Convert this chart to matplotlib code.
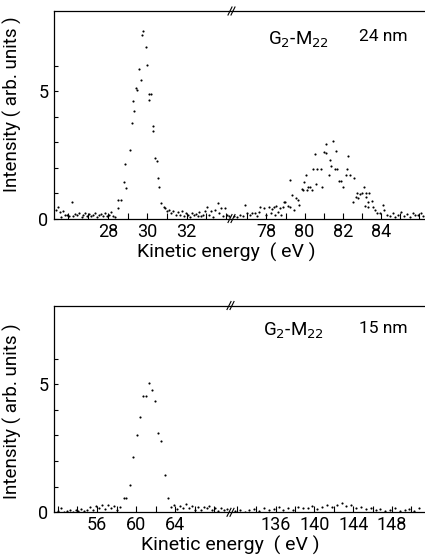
import matplotlib
matplotlib.use("Agg")
import matplotlib.pyplot as plt
import numpy as np

plt.rcParams['font.family'] = ['Roboto', 'DejaVu Sans']

# ---- 24 nm spectrum, low-energy part (G2 line)
top_lo_E = [25.35, 25.47, 25.55, 25.62, 25.75, 25.85, 25.95, 26.05, 26.17, 26.25, 26.35,
            26.45, 26.55, 26.68, 26.75, 26.85, 26.95, 27.05, 27.15, 27.25, 27.35, 27.45,
            27.55, 27.65, 27.75, 27.85, 27.95, 28.05, 28.15, 28.25, 28.35,
            28.51, 28.54, 28.69, 28.81, 28.87, 28.92, 29.11, 29.21, 29.26, 29.35, 29.41,
            29.50, 29.60, 29.68, 29.73, 29.80, 29.92, 29.97, 30.07, 30.11, 30.21, 30.27,
            30.31, 30.41, 30.47, 30.53, 30.61, 30.69, 30.83, 30.91, 31.02,
            31.12, 31.22, 31.32, 31.45, 31.55, 31.65, 31.75, 31.85, 31.95, 32.05, 32.15,
            32.25, 32.35, 32.45, 32.55, 32.65, 32.75, 32.85, 32.95, 33.05, 33.15, 33.25,
            33.35, 33.45, 33.58, 33.65, 33.75, 33.85, 33.95, 34.05, 34.15]
top_lo_I = [0.35, 0.46, 0.25, 0.05, 0.30, 0.15, 0.12, 0.10, 0.64, 0.08, 0.18,
            0.12, 0.20, 0.05, 0.15, 0.22, 0.10, 0.18, 0.08, 0.15, 0.20, 0.05,
            0.12, 0.18, 0.10, 0.20, 0.08, 0.15, 0.25, 0.10, 0.05,
            0.74, 0.40, 0.74, 1.45, 2.15, 1.19, 2.70, 3.76, 4.63, 4.23, 5.11,
            5.03, 5.89, 5.44, 7.20, 7.38, 6.72, 6.04, 4.89, 4.67, 4.89, 3.64,
            3.44, 2.39, 2.25, 1.59, 1.23, 0.62, 0.44, 0.40, 0.30,
            0.32, 0.22, 0.30, 0.15, 0.25, 0.12, 0.28, 0.08, 0.20, 0.15, 0.05,
            0.22, 0.12, 0.18, 0.10, 0.25, 0.08, 0.15, 0.30, 0.45, 0.12, 0.28,
            0.05, 0.35, 0.62, 0.20, 0.40, 0.10, 0.42, 0.15, 0.08]

# ---- 24 nm spectrum, high-energy part (M22 line)
top_hi_E = [76.3, 76.45, 76.6, 76.75, 76.9, 77.0, 77.15, 77.26, 77.38, 77.5, 77.6, 77.69,
            77.86, 78.0, 78.12, 78.22, 78.30, 78.38, 78.45, 78.52, 78.6, 78.69, 78.78,
            78.87, 78.9, 78.99, 79.11, 79.21, 79.25, 79.34, 79.42, 79.56, 79.63, 79.73,
            79.84, 79.91, 79.99, 80.05, 80.12, 80.17, 80.29, 80.38, 80.43, 80.55, 80.59,
            80.67, 80.85, 80.93, 81.0, 81.13, 81.14, 81.25, 81.32, 81.39, 81.47, 81.58,
            81.65, 81.70, 81.80, 81.9, 82.0, 82.17, 82.2, 82.29, 82.37, 82.51, 82.58,
            82.67, 82.72, 82.81, 82.88, 82.98, 83.10, 83.16, 83.19, 83.21, 83.30, 83.33,
            83.38, 83.51, 83.56, 83.68, 83.8, 83.94, 84.11, 84.15, 84.3, 84.45, 84.6,
            84.75, 84.9, 85.05, 85.2, 85.35, 85.5, 85.65, 85.8, 85.95, 86.1, 86.2]
top_hi_I = [0.10, 0.05, 0.15, 0.08, 0.54, 0.20, 0.12, 0.20, 0.23, 0.10, 0.25, 0.45,
            0.42, 0.15, 0.45, 0.20, 0.38, 0.45, 0.12, 0.48, 0.25, 0.42, 0.15,
            0.45, 0.66, 0.66, 0.49, 0.44, 1.50, 0.93, 0.33, 0.80, 0.73, 0.53,
            1.15, 1.12, 1.45, 1.70, 1.12, 1.24, 1.25, 1.12, 1.95, 2.55, 1.35,
            1.95, 1.95, 1.24, 2.63, 2.93, 2.57, 1.71, 2.30, 2.08, 3.05, 1.95,
            2.66, 1.95, 1.49, 1.49, 1.25, 1.71, 1.94, 2.46, 1.71, 0.66, 1.58,
            0.86, 1.02, 0.80, 0.96, 1.02, 1.25, 0.49, 0.83, 1.02, 0.44, 0.66,
            0.99, 0.69, 0.46, 0.33, 0.20, 0.20, 0.53, 0.33, 0.15, 0.08, 0.20,
            0.05, 0.12, 0.25, 0.10, 0.18, 0.05, 0.22, 0.12, 0.15, 0.20, 0.10]

# ---- 15 nm spectrum, low-energy part
bot_lo_E = [52.0, 52.3, 52.6, 52.9, 53.2, 53.5, 53.8, 54.1, 54.4, 54.7, 55.0, 55.3,
            55.6, 55.9, 56.2, 56.5, 56.8, 57.1, 57.4, 57.7, 58.0, 58.3,
            58.76, 58.96, 59.34, 59.70, 60.05, 60.36, 60.66, 60.97, 61.27, 61.65,
            61.95, 62.22, 62.56, 62.91, 63.24, 63.58,
            63.9, 64.2, 64.5, 64.8, 65.1, 65.4, 65.7, 66.0, 66.3, 66.6, 66.9, 67.2,
            67.5, 67.8, 68.1, 68.4, 68.7, 69.0, 69.3]
bot_lo_I = [0.05, 0.15, 0.02, 0.05, 0.08, 0.03, 0.10, 0.05, 0.12, 0.06, 0.10, 0.22,
            0.08, 0.25, 0.15, 0.30, 0.12, 0.28, 0.18, 0.25, 0.10, 0.22,
            0.55, 0.55, 1.08, 2.15, 3.03, 3.71, 4.52, 4.52, 5.05, 4.78,
            4.36, 3.11, 2.79, 1.44, 0.57, 0.22,
            0.30, 0.12, 0.25, 0.15, 0.32, 0.18, 0.25, 0.10, 0.22, 0.08, 0.20, 0.15,
            0.25, 0.10, 0.18, 0.05, 0.15, 0.08, 0.12]

# ---- 15 nm spectrum, high-energy part
bot_hi_E = [131.8, 132.3, 132.8, 133.3, 133.8, 134.3, 134.8, 135.3, 135.8, 136.3, 136.8,
            137.3, 137.8, 138.3, 138.8, 139.3, 139.8, 140.3, 140.8, 141.3, 141.8, 142.3,
            142.8, 143.3, 143.8, 144.3, 144.8, 145.3, 145.8, 146.3, 146.8, 147.3, 147.8,
            148.3, 148.8, 149.3, 149.8, 150.3, 150.8]
bot_hi_I = [0.05, 0.10, 0.03, 0.08, 0.12, 0.05, 0.15, 0.08, 0.12, 0.20, 0.10,
            0.15, 0.08, 0.22, 0.15, 0.18, 0.25, 0.12, 0.22, 0.28, 0.20, 0.30,
            0.35, 0.25, 0.30, 0.18, 0.22, 0.12, 0.15, 0.08, 0.12, 0.05, 0.10,
            0.15, 0.05, 0.08, 0.12, 0.05, 0.15]

W, H = 425, 560
fig = plt.figure(figsize=(W / 100, H / 100), dpi=100)


def panel(bottom, top, xbrk, lo, hi, lo_xlim, hi_xlim, lo_ticks, hi_ticks,
          lo_labels, hi_labels, thick, text, xlab_x, ylab_y, tx, ty):
    b = 1 - bottom / H
    h = (bottom - top) / H
    axL = fig.add_axes([54 / W, b, (xbrk - 54) / W, h])
    axR = fig.add_axes([xbrk / W, b, (W - xbrk) / W, h])
    for ax, (E, I), xl, tk, lab in [(axL, lo, lo_xlim, lo_ticks, lo_labels),
                                    (axR, hi, hi_xlim, hi_ticks, hi_labels)]:
        ax.scatter(E, I, s=2.4, c='black', marker='o', linewidths=0)
        ax.set_xlim(*xl)
        ax.set_ylim(0, thick)
        ax.set_xticks(tk, minor=True)
        ax.set_xticks(lab)
        ax.set_xticklabels([str(v) for v in lab], fontsize=13)
        ax.tick_params(axis='x', which='both', direction='in', length=4,
                       width=0.8, pad=3)
        ax.spines['right'].set_visible(False)
        for s in ('top', 'bottom', 'left'):
            ax.spines[s].set_linewidth(0.9)
    axR.spines['left'].set_visible(False)
    axR.set_yticks([])
    axL.set_yticks([0, 5])
    axL.set_yticks([1, 2, 3, 4, 6], minor=True)
    axL.set_yticklabels(['0', '5'], fontsize=13)
    axL.tick_params(axis='y', which='both', direction='in', length=3, width=0.8, pad=4)
    axL.set_ylabel('Intensity ( arb. units )', fontsize=13.5)
    axL.yaxis.set_label_coords((22 - 54) / (xbrk - 54), ylab_y)
    fig.text(xlab_x / W, 1 - (bottom + 24) / H, 'Kinetic energy  ( eV )',
             ha='center', va='top', fontsize=14)
    axR.text(tx, ty, r'G$_2$-M$_{22}$', transform=axR.transAxes, fontsize=13.5,
             ha='left', va='center', math_fontfamily='dejavusans')
    axR.text(0.66, ty + 0.015, text, transform=axR.transAxes, fontsize=12.5,
             ha='left', va='center')
    # break marks
    for yp in (top, bottom):
        for dx in (-2, 1):
            x0 = (xbrk + dx - 2) / W
            x1 = (xbrk + dx + 2) / W
            fig.add_artist(plt.Line2D([x0, x1], [1 - (yp + 4) / H, 1 - (yp - 4) / H],
                                      color='black', lw=0.8, transform=fig.transFigure))
    return axL, axR


panel(218.5, 11, 232, (top_lo_E, top_lo_I), (top_hi_E, top_hi_I),
      (25.27, 34.3), (76.2, 86.3), np.arange(26, 35), np.arange(77, 87),
      [28, 30, 32], [78, 80, 82, 84], 8.15, '24 nm', 226, 0.55, 0.185, 0.86)

panel(512.3, 305.5, 231, (bot_lo_E, bot_lo_I), (bot_hi_E, bot_hi_I),
      (51.6, 69.7), (131.4, 151.4), np.arange(52, 70, 2), np.arange(132, 152, 2),
      [56, 60, 64], [136, 140, 144, 148], 8.07, '15 nm', 230, 0.49, 0.165, 0.875)

fig.savefig('out.png', dpi=100)
